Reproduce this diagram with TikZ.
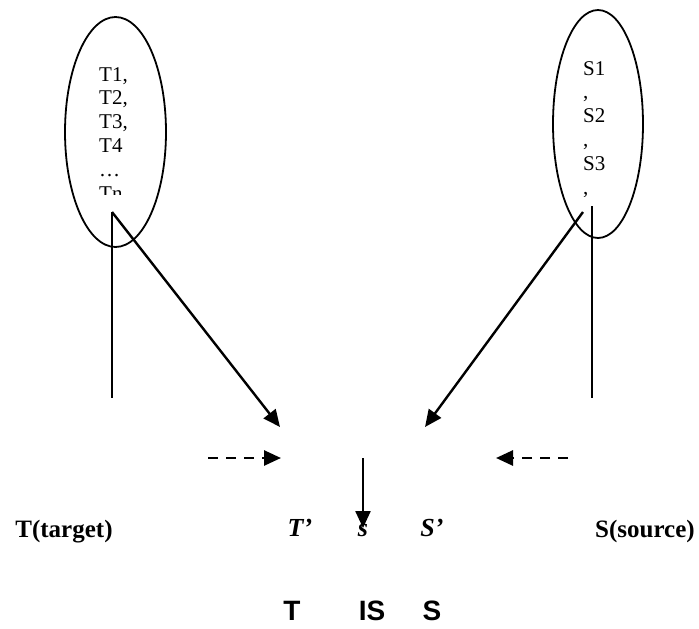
\documentclass[tikz,border=0pt]{standalone}
\usepackage{fontspec}
\setmainfont{Liberation Serif}
\newfontfamily\arialf{Liberation Sans}
\usetikzlibrary{arrows.meta}
\begin{document}
\begin{tikzpicture}[x=1pt,y=-1pt,
  ell/.style={draw,line width=1.8pt},
  thinln/.style={draw,line width=1.2pt},
  arr/.style={draw,line width=2.4pt,-{Triangle[length=17pt,width=15pt]}},
  darr/.style={draw,line width=2.7pt,dash pattern=on 10pt off 8pt,-{Triangle[length=17pt,width=15pt]}},
  lst/.style={font=\fontsize{21}{23.8}\selectfont,align=left,anchor=north west,inner sep=0pt},
  lbl/.style={font=\fontsize{25}{28}\selectfont\bfseries,anchor=base,inner sep=0pt},
  ilbl/.style={font=\fontsize{26}{28}\selectfont\bfseries\itshape,anchor=base,inner sep=0pt},
  big/.style={font=\fontsize{28}{32}\selectfont\arialf\bfseries,anchor=base,inner sep=0pt}]
\useasboundingbox (0,0) rectangle (699,629);
% ellipses
\draw[ell] (115.5,132) ellipse [x radius=50.5, y radius=115];
\draw[ell] (598,124) ellipse [x radius=45, y radius=114];
% clipped lists
\begin{scope}
\clip (60,0) rectangle (170,194);
\node[lst] (tl) at (99,67) {T1,\\T2,\\T3,\\T4\\\dots\\Tn};
\end{scope}
\begin{scope}
\clip (550,0) rectangle (650,196);
\node[lst] (sl) at (583,61) {S1\\,\\S2\\,\\S3\\,\\Sn};
\end{scope}
% coordinates
\coordinate (lt) at (112,212);
\coordinate (lb) at (112,398);
\coordinate (rt) at (583,212);
\coordinate (rvt) at (592,206);
\coordinate (rb) at (592,398);
\coordinate (ltip) at (280,427);
\coordinate (rtip) at (425,427);
\coordinate (dl1) at (208,458);
\coordinate (dl2) at (281,458);
\coordinate (dr1) at (568,458);
\coordinate (dr2) at (496,458);
\coordinate (dv1) at (363,458);
\coordinate (dv2) at (363,528);
\draw[thinln] (lt) -- (lb);
\draw[thinln] (rvt) -- (rb);
\draw[arr] (lt) -- (ltip);
\draw[arr] (rt) -- (rtip);
\draw[darr] (dl1) -- (dl2);
\draw[darr] (dr1) -- (dr2);
\draw[arr] (dv1) -- (dv2);
% labels
\node[lbl] (tt) at (64,537) {T(target)};
\node[lbl] (ss) at (645,537) {S(source)};
\node[ilbl] (tp) at (300,536) {T’};
\node[ilbl] (sm) at (363,536) {s};
\node[ilbl] (sp) at (432,536) {S’};
\node[big] (bt) at (292,620) {T};
\node[big] (bis) at (372,620) {IS};
\node[big] (bs) at (432,620) {S};
\end{tikzpicture}
\end{document}
